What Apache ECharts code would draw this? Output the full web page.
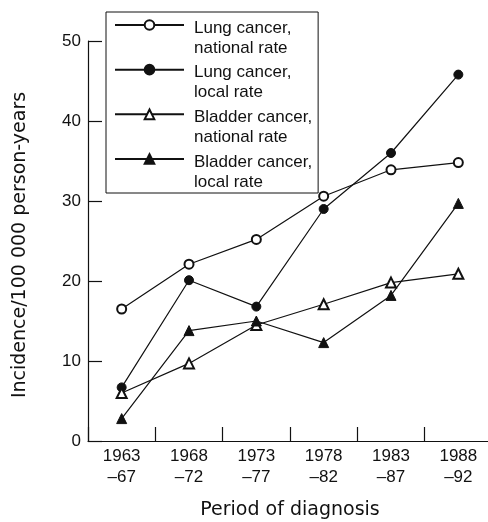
<!DOCTYPE html>
<html>
<head>
<meta charset="utf-8">
<script src="https://cdn.jsdelivr.net/npm/echarts@6/dist/echarts.min.js"></script>
<style>
html,body{margin:0;padding:0;background:#fff;}
#chart{width:488px;height:522px;}
</style>
</head>
<body>
<div id="chart"></div>
<script>
var categories = ['1963\n\u201367', '1968\n\u201372', '1973\n\u201377', '1978\n\u201382', '1983\n\u201387', '1988\n\u201392'];
var lungNational = [16.5, 22.1, 25.2, 30.6, 33.9, 34.8];
var lungLocal = [6.7, 20.1, 16.8, 29.0, 36.0, 45.8];
var bladderNational = [6.0, 9.7, 14.5, 17.1, 19.8, 20.9];
var bladderLocal = [2.8, 13.8, 15.0, 12.3, 18.2, 29.7];
var seriesNames = ['Lung cancer,\nnational rate', 'Lung cancer,\nlocal rate', 'Bladder cancer,\nnational rate', 'Bladder cancer,\nlocal rate'];
var yTicks = [0, 10, 20, 30, 40, 50];

var FONT = '"Liberation Sans", Arial, Helvetica, sans-serif';
var NAMEFONT = '"DejaVu Sans", "Liberation Sans", sans-serif';
var INK = '#111';

function mkSeries(name, data, symbol, size) {
  return {
    name: name,
    type: 'line',
    data: data,
    symbol: symbol,
    symbolSize: size,
    showAllSymbol: true,
    lineStyle: { color: INK, width: 1.2 },
    itemStyle: { color: INK, borderColor: INK, borderWidth: 1 },
    emphasis: { disabled: true },
    z: 3
  };
}

var chart = echarts.init(document.getElementById('chart'), null, { renderer: 'canvas' });
chart.setOption({
  animation: false,
  backgroundColor: '#fff',
  textStyle: { fontFamily: FONT, color: INK },
  grid: { left: 88, top: 41, width: 404, height: 400, containLabel: false, outerBoundsMode: 'none' },
  legend: {
    orient: 'vertical',
    left: 106,
    top: 12,
    padding: [-20, 6, 1, 8],
    itemGap: -21.33,
    itemWidth: 69,
    itemHeight: 12,
    borderColor: INK,
    borderWidth: 1,
    backgroundColor: '#fff',
    selectedMode: false,
    data: seriesNames,
    formatter: function (name) {
      return name.split('\n').map(function (s) { return '{t|' + s + '}'; }).join('\n');
    },
    textStyle: {
      fontFamily: FONT,
      fontSize: 17,
      lineHeight: 20,
      color: INK,
      padding: [26, 0, 0, 5],
      rich: {
        t: { fontFamily: FONT, fontSize: 17, lineHeight: 20, color: INK }
      }
    }
  },
  xAxis: {
    type: 'category',
    data: categories,
    boundaryGap: true,
    name: 'Period of diagnosis',
    nameLocation: 'middle',
    nameGap: 60,
    nameTextStyle: { fontFamily: NAMEFONT, fontSize: 19, color: INK },
    axisLine: { show: true, lineStyle: { color: INK, width: 1.2 } },
    axisTick: { show: true, inside: true, length: 14, alignWithLabel: false, lineStyle: { color: INK, width: 1.2 } },
    axisLabel: { fontFamily: FONT, fontSize: 17, lineHeight: 21, color: INK, margin: 5, interval: 0 },
    splitLine: { show: false }
  },
  yAxis: {
    type: 'value',
    min: yTicks[0],
    max: yTicks[yTicks.length - 1],
    interval: 10,
    name: 'Incidence/100 000 person-years',
    nameLocation: 'middle',
    nameGap: 58,
    nameRotate: 90,
    nameTextStyle: { fontFamily: NAMEFONT, fontSize: 19, color: INK, padding: [0, 8, 0, 0] },
    axisLine: { show: true, lineStyle: { color: INK, width: 1.2 } },
    axisTick: { show: true, inside: true, length: 14, lineStyle: { color: INK, width: 1.2 } },
    axisLabel: { fontFamily: FONT, fontSize: 17, color: INK, margin: 7 },
    splitLine: { show: false }
  },
  series: [
    mkSeries(seriesNames[0], lungNational, 'emptyCircle', 9),
    mkSeries(seriesNames[1], lungLocal, 'circle', 9),
    mkSeries(seriesNames[2], bladderNational, 'emptyTriangle', 10),
    mkSeries(seriesNames[3], bladderLocal, 'triangle', 10)
  ]
});
</script>
</body>
</html>
